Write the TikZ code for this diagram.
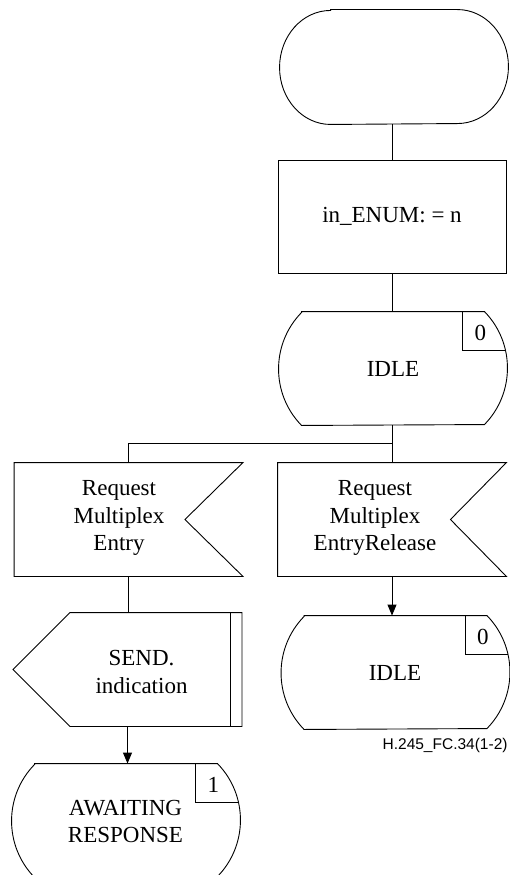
\documentclass[tikz,border=0pt]{standalone}
\usepackage{fontspec}
\setmainfont{Liberation Serif}
\newfontfamily\labelfont{Liberation Sans}
\usetikzlibrary{arrows.meta}
\tikzset{
  shapebox/.style={inner sep=0pt, minimum width=228pt, minimum height=113pt},
  txt/.style={align=center, inner sep=0pt, font=\fontsize{23}{27.5}\selectfont},
  conn/.style={draw, line width=0.9pt},
  arr/.style={conn, -{Triangle[length=11pt,width=9pt]}},
}
\newcommand{\drawstate}[2]{%
  \draw ([xshift=23pt]#1.north west) -- ([xshift=-23pt]#1.north east)
     arc[start angle=44.3, end angle=-44.3, radius=80.9pt]
     -- ([xshift=23pt]#1.south west)
     arc[start angle=224.3, end angle=135.7, radius=80.9pt] -- cycle;
  \draw ([xshift=-45pt]#1.north east) -- ++(0,-39pt) -- ([xshift=-1.9pt,yshift=-39pt]#1.north east);
  \node[txt] (#1-num) at ([xshift=-27pt,yshift=-21pt]#1.north east) {#2};
}
\begin{document}
\begin{tikzpicture}[x=1pt,y=1pt,line width=0.9pt]
\useasboundingbox (0,0) rectangle (510,-875);
\begin{scope}
\clip (0,0) rectangle (510,-875);

% start terminator
\node[shapebox, minimum height=114pt] (start) at (394,-67) {};
\draw ([xshift=51pt]start.north west) -- ([xshift=-51pt]start.north east)
   arc[start angle=90, end angle=-90, x radius=51pt, y radius=57pt]
   -- ([xshift=51pt]start.south west)
   arc[start angle=270, end angle=90, x radius=51pt, y radius=57pt] -- cycle;

% task
\node[shapebox, draw, txt, minimum width=228pt, minimum height=113pt] (task) at (392,-216.5) {in\_ENUM: = n};

% IDLE state
\node[shapebox] (idle1) at (393,-368.5) {};
\drawstate{idle1}{0}
\node[txt] (idle1-t) at (393,-369) {IDLE};

% left input
\node[shapebox] (lin) at (128.5,-519.5) {};
\draw (lin.north west) -- (lin.north east) -- ([xshift=-58pt]lin.east) -- (lin.south east) -- (lin.south west) -- cycle;
\node[txt] (lin-t) at (119,-518) {Request\\Multiplex\\Entry};

% right input
\node[shapebox] (rin) at (392,-519.5) {};
\draw (rin.north west) -- (rin.north east) -- ([xshift=-56pt]rin.east) -- (rin.south east) -- (rin.south west) -- cycle;
\node[txt] (rin-t) at (375,-518) {Request\\Multiplex\\EntryRelease};

% output
\node[shapebox] (send) at (127.5,-669.5) {};
\draw ([xshift=57pt]send.north west) -- (send.north east) -- (send.south east) -- ([xshift=57pt]send.south west) -- (send.west) -- cycle;
\draw ([xshift=-12pt]send.north east) -- ([xshift=-12pt]send.south east);
\node[txt] (send-t) at (141.5,-672) {SEND.\\indication};

% IDLE state 2
\node[shapebox] (idle2) at (395.5,-672.5) {};
\drawstate{idle2}{0}
\node[txt] (idle2-t) at (395,-673) {IDLE};

% AWAITING state
\node[shapebox] (await) at (126,-820.5) {};
\drawstate{await}{1}
\node[txt] (await-t) at (125.5,-821.5) {AWAITING\\RESPONSE};

% label
\node[anchor=east, inner sep=0pt, font=\labelfont\fontsize{15.5}{18}\selectfont] (lbl) at (508,-745) {H.245\_FC.34(1-2)};

% connectors
\draw[conn] (start.south -| task.north) -- (task.north);
\draw[conn] (task.south) -- (task.south |- idle1.north);
\draw[conn] (task.south |- idle1.south) -- (rin.north);
\coordinate (j) at (392,-443);
\draw[conn] (j) -| (lin.north);
\draw[conn] (lin.south) -- (lin.south |- send.north);
\draw[arr] (send.south) -- (send.south |- await.north);
\draw[arr] (rin.south) -- (rin.south |- idle2.north);
\end{scope}
\end{tikzpicture}
\end{document}
